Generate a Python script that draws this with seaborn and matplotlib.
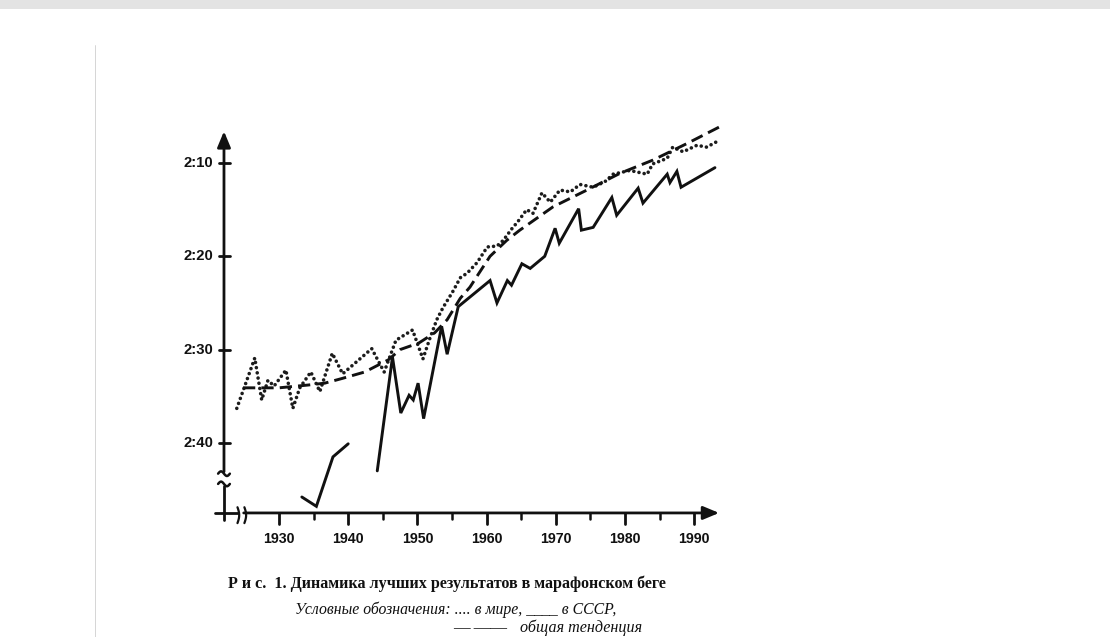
import numpy as np
import matplotlib
matplotlib.use("Agg")
import matplotlib.pyplot as plt
import seaborn as sns

# -----------------------
# Data (time = minutes over 2 hours)
# -----------------------
world_years = [1923.9, 1926.5, 1927.5, 1928.4, 1929.3, 1931.0, 1932.0, 1933.0, 1934.6, 1935.9,
               1937.7, 1939.2, 1943.4, 1945.2, 1946.9, 1949.3, 1950.8, 1951.8, 1952.8, 1953.7,
               1955.1, 1956.2, 1957.2, 1958.6, 1960.1, 1961.5, 1962.4, 1963.8, 1964.4, 1965.8,
               1966.7, 1968.0, 1969.2, 1970.6, 1972.1, 1973.5, 1975.4, 1977.1, 1978.3, 1980.7,
               1983.2, 1984.0, 1986.1, 1986.9, 1988.4, 1990.4, 1991.8, 1993.3]
world_times = [36.3, 30.9, 35.4, 33.3, 33.9, 32.2, 36.3, 34.1, 32.4, 34.5,
               30.4, 32.6, 29.9, 32.4, 29.0, 27.9, 31.0, 28.8, 26.8, 25.5,
               23.8, 22.3, 21.8, 20.7, 19.0, 18.9, 18.3, 16.9, 16.4, 15.0,
               15.4, 13.2, 14.2, 12.9, 13.1, 12.3, 12.6, 12.0, 11.2, 10.8,
               11.2, 10.1, 9.5, 8.3, 8.8, 8.1, 8.3, 7.7]

# USSR best results: two pieces (gap during the war)
ussr_years_1 = [1933.3, 1935.4, 1937.8, 1940.0]
ussr_times_1 = [45.8, 46.8, 41.5, 40.1]
ussr_years_2 = [1944.2, 1946.4, 1947.6, 1948.8, 1949.4, 1950.1, 1950.9, 1953.5, 1954.3, 1955.9,
                1960.5, 1961.5, 1963.0, 1963.6, 1965.1, 1966.3, 1968.4, 1969.9, 1970.5, 1973.3,
                1973.7, 1975.4, 1978.1, 1978.8, 1981.9, 1982.6, 1986.1, 1986.5, 1987.5, 1988.1,
                1993.0]
ussr_times_2 = [43.0, 30.8, 36.8, 34.9, 35.4, 33.6, 37.4, 27.5, 30.5, 25.4,
                22.6, 25.0, 22.6, 23.1, 20.8, 21.3, 20.0, 17.0, 18.6, 14.9,
                17.2, 16.9, 13.7, 15.6, 12.7, 14.3, 11.2, 12.1, 10.9, 12.6,
                10.5]

# general trend
trend_years = [1924.8, 1930.0, 1934.2, 1936.6, 1939.1, 1942.4, 1945.8, 1947.5, 1950.2, 1952.5,
               1954.3, 1956.2, 1957.6, 1959.0, 1960.5, 1962.9, 1964.8, 1969.6, 1974.5, 1979.3,
               1984.0, 1989.0, 1994.0]
trend_times = [34.1, 34.1, 33.8, 33.6, 33.1, 32.4, 31.1, 30.0, 29.3, 28.2,
               26.8, 24.5, 23.3, 21.7, 20.0, 18.3, 17.2, 14.7, 12.9, 11.1,
               9.7, 7.9, 6.0]

x_labels = [1930, 1940, 1950, 1960, 1970, 1980, 1990]
x_minor = [1935, 1945, 1955, 1965, 1975, 1985]
y_ticks = [10, 20, 30, 40]
y_labels = ["2:10", "2:20", "2:30", "2:40"]

# -----------------------
# Figure
# -----------------------
sns.set_style("white")
plt.rcParams["font.family"] = ["Liberation Sans", "DejaVu Sans"]

W, H = 1110, 637
fig = plt.figure(figsize=(W / 100, H / 100), dpi=100)
fig.patch.set_facecolor("white")
ax = fig.add_axes([200 / W, (H - 540) / H, 540 / W, 430 / H])
ax.set_axis_off()

ink = "#111111"

sns.lineplot(x=world_years, y=world_times, ax=ax, color="#1c1c1c", lw=2.6,
             linestyle=(0, (0.01, 1.45)), dash_capstyle="round", sort=False, estimator=None)
sns.lineplot(x=trend_years, y=trend_times, ax=ax, color=ink, lw=2.1,
             linestyle=(0, (4.2, 2.1)), sort=False, estimator=None)
for xs, ys in [(ussr_years_1, ussr_times_1), (ussr_years_2, ussr_times_2)]:
    sns.lineplot(x=xs, y=ys, ax=ax, color=ink, lw=2.1, sort=False, estimator=None,
                 solid_joinstyle="miter")

ax.set_xlim(1918.584, 1996.62)
ax.set_ylim(50.41, 4.32)

# hand-drawn style axes
yx = 1922.05   # where the vertical axis stands
xy0 = 47.51    # where the horizontal axis lies
ax.plot([yx, yx], [48.26, 44.6], color=ink, lw=2, clip_on=False)
ax.annotate("", xy=(yx, 6.6), xytext=(yx, 43.1),
            arrowprops=dict(arrowstyle="-|>,head_length=0.6,head_width=0.25", color=ink,
                            lw=2, mutation_scale=16, shrinkA=0, shrinkB=0))
for m0 in (43.3, 44.4):
    t = np.linspace(0, 1, 16)
    ax.plot(1921.2 + 1.7 * t, m0 - 0.25 * np.sin(2 * np.pi * t), color=ink, lw=1.8,
            clip_on=False)

ax.plot([1920.75, 1924.1], [xy0, xy0], color=ink, lw=2, clip_on=False)
ax.annotate("", xy=(1993.6, xy0), xytext=(1924.9, xy0),
            arrowprops=dict(arrowstyle="-|>,head_length=0.6,head_width=0.25", color=ink,
                            lw=2, mutation_scale=16, shrinkA=0, shrinkB=0))
for x0 in (1924.0, 1925.0):
    t = np.linspace(0, 1, 12)
    ax.plot(x0 + 0.25 * np.sin(np.pi * t), 46.9 + 1.7 * t, color=ink, lw=1.6, clip_on=False)

for yr in x_labels:
    ax.plot([yr, yr], [xy0, 48.7], color=ink, lw=2, clip_on=False)
    ax.text(yr, 50.3, str(yr), ha="center", va="center", fontsize=10.2,
            fontweight="bold", color=ink)
for yr in x_minor:
    ax.plot([yr, yr], [xy0, 48.2], color=ink, lw=1.8, clip_on=False)

for m, lab in zip(y_ticks, y_labels):
    ax.plot([1921.3, 1922.9], [m, m], color=ink, lw=2, clip_on=False)
    ax.text(1920.47, m, lab, ha="right", va="center", fontsize=10.7,
            fontweight="bold", color=ink)

# page scan details
fig.add_artist(plt.Rectangle((0, 1 - 9 / H), 1, 9 / H, transform=fig.transFigure,
                             color="#e3e3e3", lw=0))
fig.add_artist(plt.Line2D([95 / W, 95 / W], [0, 1 - 45 / H], transform=fig.transFigure,
                          color="#cfcfcf", lw=0.6))

# caption
fig.text(447 / W, 1 - 584 / H, "Р и с.  1. Динамика лучших результатов в марафонском беге",
         ha="center", va="center", family="Liberation Serif", weight="bold",
         fontsize=11.6, color=ink)
fig.text(456 / W, 1 - 610 / H, "Условные обозначения: .... в мире, ____ в СССР,",
         ha="center", va="center", family="Liberation Serif", style="italic",
         fontsize=11.3, color=ink)
fig.text(453 / W, 1 - 628 / H, "— ——", ha="left", va="center",
         family="Liberation Serif", fontsize=12, color=ink)
fig.text(520 / W, 1 - 628 / H, "общая тенденция", ha="left", va="center",
         family="Liberation Serif", style="italic", fontsize=11.6, color=ink)

fig.savefig("out.png", dpi=100)
